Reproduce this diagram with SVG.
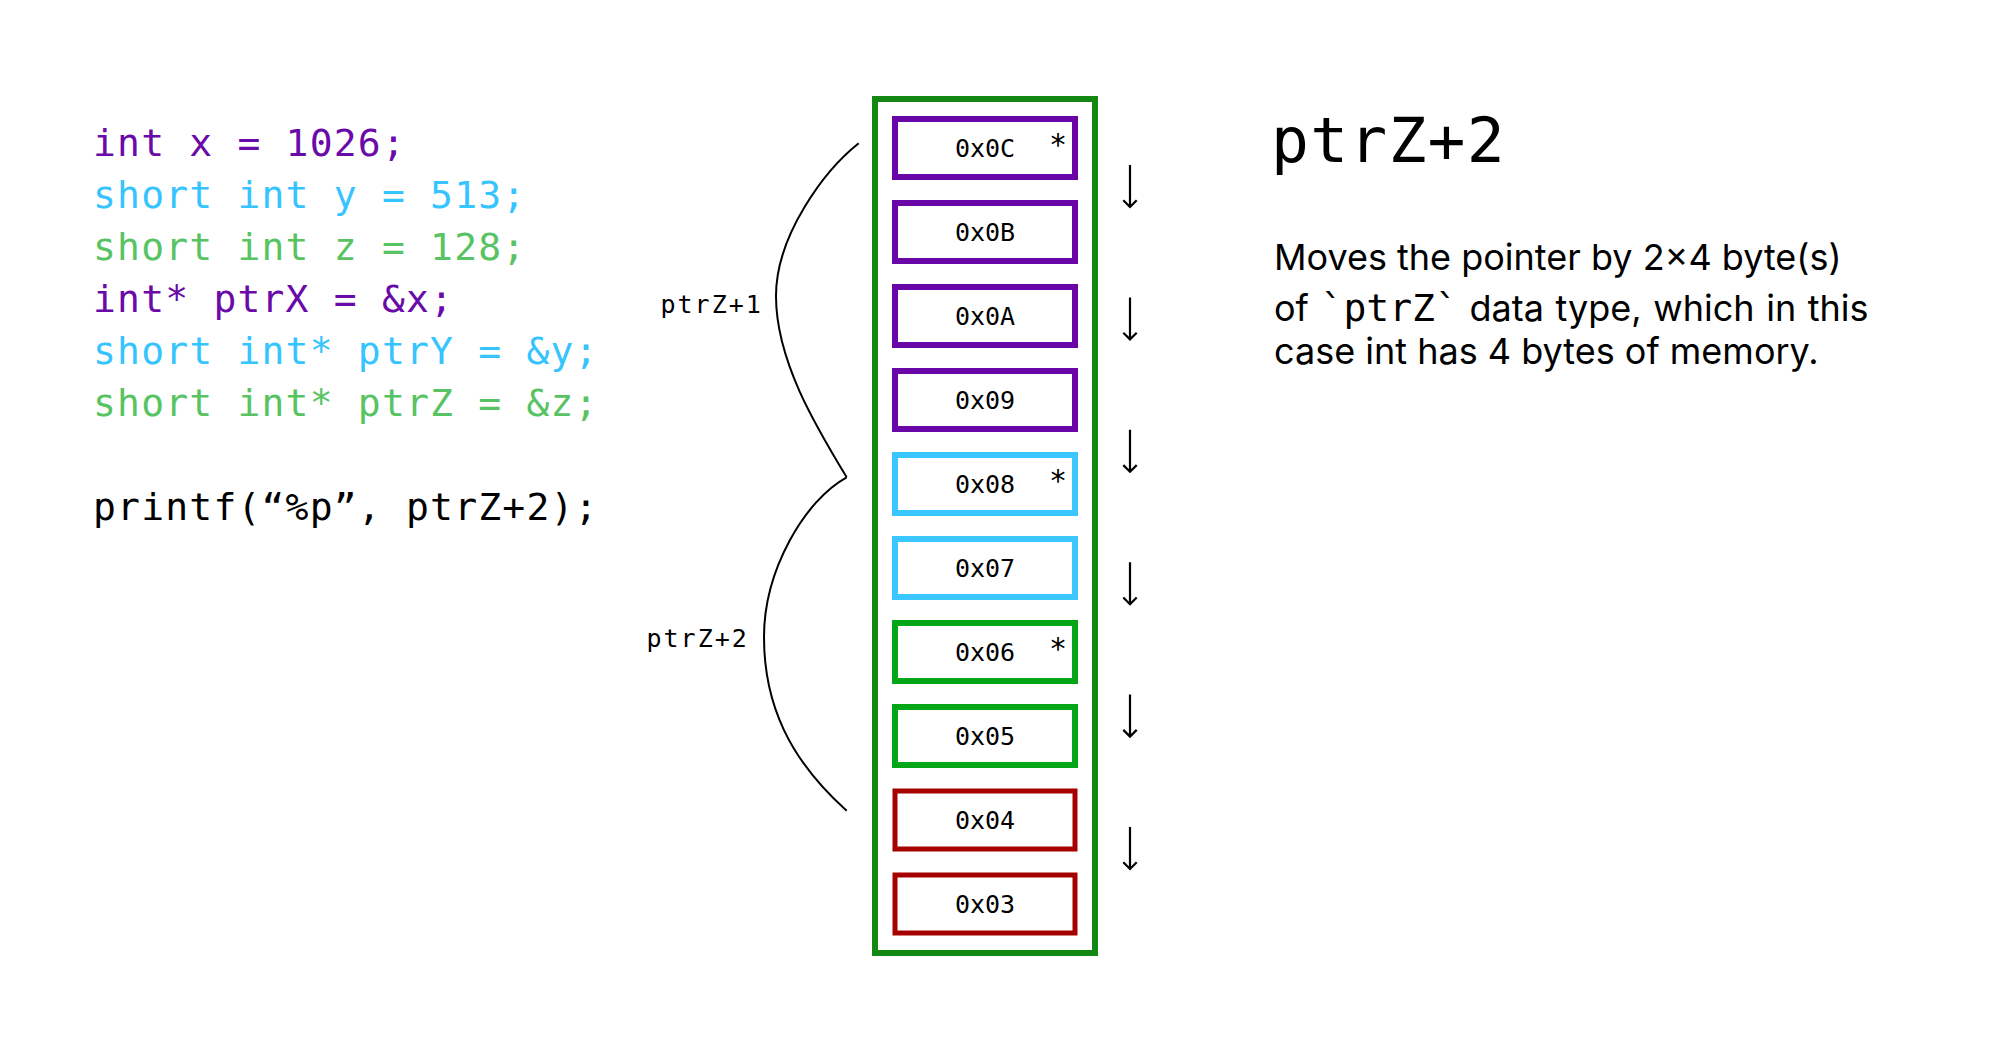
<svg xmlns="http://www.w3.org/2000/svg" width="2000" height="1050" viewBox="0 0 2000 1050">
<style>
.code{font-family:"DejaVu Sans Mono","Liberation Mono",monospace;font-size:38px;letter-spacing:1.2px}
.purple{fill:#6a0aa8}
.blue{fill:#36c4ff}
.green{fill:#58c363}
.black{fill:#000}
.lbl{font-family:"DejaVu Sans Mono","Liberation Mono",monospace;font-size:25px;fill:#000;text-anchor:middle}
.ast{font-family:"DejaVu Sans Mono","Liberation Mono",monospace;font-size:30px;fill:#000;text-anchor:middle}
.side{font-family:"DejaVu Sans Mono","Liberation Mono",monospace;font-size:25px;letter-spacing:2px;fill:#000}
.box{fill:#fff;stroke-width:6}
.bp{stroke:#6a06a8}
.bb{stroke:#3cc6ff}
.bg{stroke:#05a518}
.br{stroke:#a60000;stroke-width:5}
.para{font-family:Inter,"Noto Sans",sans-serif;font-size:36px;fill:#000}
.pm{font-family:"DejaVu Sans Mono","Liberation Mono",monospace;font-size:38px}
.arr{fill:none;stroke:#000;stroke-width:2.2}
.brace{fill:none;stroke:#000;stroke-width:2}
</style>
<rect width="2000" height="1050" fill="#fff"/>
<g id="code">
<text class="code purple" x="93" y="156">int x = 1026;</text>
<text class="code blue" x="93" y="208">short int y = 513;</text>
<text class="code green" x="93" y="260">short int z = 128;</text>
<text class="code purple" x="93" y="312">int* ptrX = &amp;x;</text>
<text class="code blue" x="93" y="364">short int* ptrY = &amp;y;</text>
<text class="code green" x="93" y="416">short int* ptrZ = &amp;z;</text>
<text class="code black" x="93" y="520">printf(“%p”, ptrZ+2);</text>
</g>
<g id="memory">
<rect x="875" y="99" width="220" height="854" fill="#fff" stroke="#128812" stroke-width="6"/>
</g>
<g id="cell-0x0C"><rect class="box bp" x="895" y="119" width="180" height="58"/><text class="lbl" x="985" y="156.7">0x0C</text><text class="ast" x="1058" y="155">*</text></g>
<g id="cell-0x0B"><rect class="box bp" x="895" y="203" width="180" height="58"/><text class="lbl" x="985" y="240.7">0x0B</text></g>
<g id="cell-0x0A"><rect class="box bp" x="895" y="287" width="180" height="58"/><text class="lbl" x="985" y="324.7">0x0A</text></g>
<g id="cell-0x09"><rect class="box bp" x="895" y="371" width="180" height="58"/><text class="lbl" x="985" y="408.7">0x09</text></g>
<g id="cell-0x08"><rect class="box bb" x="895" y="455" width="180" height="58"/><text class="lbl" x="985" y="492.7">0x08</text><text class="ast" x="1058" y="491">*</text></g>
<g id="cell-0x07"><rect class="box bb" x="895" y="539" width="180" height="58"/><text class="lbl" x="985" y="576.7">0x07</text></g>
<g id="cell-0x06"><rect class="box bg" x="895" y="623" width="180" height="58"/><text class="lbl" x="985" y="660.7">0x06</text><text class="ast" x="1058" y="659">*</text></g>
<g id="cell-0x05"><rect class="box bg" x="895" y="707" width="180" height="58"/><text class="lbl" x="985" y="744.7">0x05</text></g>
<g id="cell-0x04"><rect class="box br" x="895" y="791" width="180" height="58"/><text class="lbl" x="985" y="828.7">0x04</text></g>
<g id="cell-0x03"><rect class="box br" x="895" y="875" width="180" height="58"/><text class="lbl" x="985" y="912.7">0x03</text></g>
<g id="arrows" transform="translate(1,0)">
<path class="arr" d="M1129,165 V207 M1122.3,200.3 L1129,207 L1135.7,200.3"/>
<path class="arr" d="M1129,297.4 V339.4 M1122.3,332.7 L1129,339.4 L1135.7,332.7"/>
<path class="arr" d="M1129,429.8 V471.8 M1122.3,465.1 L1129,471.8 L1135.7,465.1"/>
<path class="arr" d="M1129,562.2 V604.2 M1122.3,597.5 L1129,604.2 L1135.7,597.5"/>
<path class="arr" d="M1129,694.6 V736.6 M1122.3,729.9 L1129,736.6 L1135.7,729.9"/>
<path class="arr" d="M1129,827 V869 M1122.3,862.3 L1129,869 L1135.7,862.3"/>
</g>
<g id="connectors">
<path class="brace" d="M858.7,143.3 C825,170 776,235 776,296 C776,360 815,425 846.7,477.3"/>
<path class="brace" d="M846.7,477.3 C805,500 764,570 764,637 C764,705 790,760 846.7,810.7"/>
</g>
<g id="labels">
<text class="side" x="660.5" y="313">ptrZ+1</text>
<text class="side" x="646.5" y="646.7">ptrZ+2</text>
</g>
<g id="explanation">
<text x="1271" y="162" font-family="DejaVu Sans Mono, Liberation Mono, monospace" font-size="63" letter-spacing="1.2" fill="#000">ptrZ+2</text>
<text class="para" x="1274" y="270">Moves the pointer by 2×4 byte(s)</text>
<text class="para" x="1274" y="321" word-spacing="1.5">of <tspan class="pm">`ptrZ`</tspan> data type, which in this</text>
<text class="para" x="1274" y="364">case int has 4 bytes of memory.</text>
</g>
</svg>
